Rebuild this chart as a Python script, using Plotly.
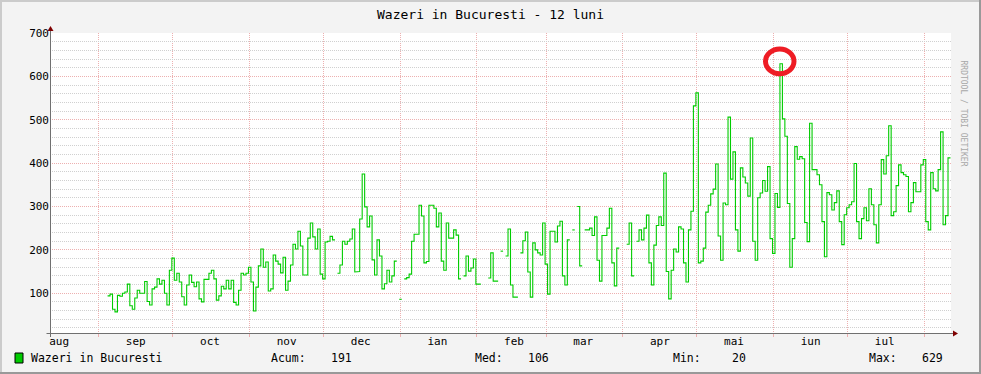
import pandas as pd
import plotly.graph_objects as go

# ---------------- data ----------------
title_text = "Wazeri in Bucuresti - 12 luni"
series_name = "Wazeri in Bucuresti"
month_labels = ["aug", "sep", "oct", "nov", "dec", "ian", "feb", "mar", "apr", "mai", "iun", "iul"]
month_label_dates = ["2012-08-16", "2012-09-16", "2012-10-16", "2012-11-16", "2012-12-16", "2013-01-16",
                     "2013-02-16", "2013-03-16", "2013-04-16", "2013-05-16", "2013-06-16", "2013-07-16"]
month_starts = ["2012-09-01", "2012-10-01", "2012-11-01", "2012-12-01", "2013-01-01", "2013-02-01",
                "2013-03-01", "2013-04-01", "2013-05-01", "2013-06-01", "2013-07-01", "2013-08-01"]
stats_labels = ["Acum:", "Med:", "Min:", "Max:"]
stats_values = ["191", "106", "20", "629"]
y_ticks = [100, 200, 300, 400, 500, 600, 700]

first_day = "2012-09-04 14:00"
x_start, x_end = "2012-08-12 07:00", "2013-08-11 19:00"

sep_vals = [94, 98, 63, 57, 95, 93, 100, 103, 121, 71, 63, 89, 107, 100, 100, 127, 81, 73, 110, 114,
            133, 121, 130, 100, 73, 153]
oct_vals = [181, 130, 146, 126, 92, 73, 119, 142, 125, 115, 126, 87, 80, 132, 132, 146, 153, 133, 84, 94,
            116, 110, 130, 110, 130, 79, 73, 107, 146, 142, 146]
nov_vals = [160, 126, 59, 114, 163, 202, 160, 172, 105, 110, 188, 174, 167, 147, 183, 107, 128, 165, 213, 202,
            243, 209, 142, 142, 227, 262, 230, 202, 248, 144]
dec_vals = [133, 218, 220, 231, 223, None, 146, 165, 220, 213, 220, 225, 248, 149, 150, 271, 375, 299, 253, 278,
            177, 142, 223, 186, 110, 122, 153, 126, 140, 174, None]
ian_vals = [86, None, 133, 136, 144, 220, 236, 236, 303, 278, 170, 173, 303, 303, 296, 253, 285, 174, 153, 262,
            227, 227, 246, 234, 133, None, 140, 186, 151, 158, 179]
feb_vals = [121, 121, None, None, None, 135, 193, 128, 128, None, 197, None, 186, 248, 119, 91, 91, None, 193, 221,
            241, 149, 91, 216, 200, 193, 188, 262]
mar_vals = [167, 98, 243, 243, 218, 255, 266, 140, 119, 223, None, 246, None, 300, 163, None, 246, 246, 250, 233,
            276, 176, 128, 233, 233, 250, 296, 170, 117, 204, None]
apr_vals = [None, None, 213, 262, 140, None, 220, 246, 223, 250, 280, 170, 119, 211, 256, 276, 256, 377, 150, 87,
            153, 202, 195, 253, 248, 170, 126, 246, 289, 532]
mai_vals = [562, 170, 174, 204, 287, 303, 329, 340, 398, 232, 176, 308, 304, 506, 363, 426, 246, 197, 389, 368,
            354, 324, 458, 220, 176, 320, 331, 360, 335, 392, 226]
iun_vals = [192, 330, 298, 629, 502, 462, 307, 160, 226, 438, 409, 415, 410, 263, 219, 492, 385, 385, 373, 350,
            265, 184, 332, 327, 292, 309, 336, 265, 212, 281]
iul_vals = [297, 304, 311, 399, 265, 226, 272, 297, 267, 341, 304, 258, 216, 304, 408, 375, 417, 486, 279, 288,
            348, 396, 378, 373, 369, 288, 309, 355, 334, 334, 396]
aug_vals = [408, 265, 246, 378, 341, 336, 385, 472, 258, 279, 412]

values = (sep_vals + oct_vals + nov_vals + dec_vals + ian_vals + feb_vals + mar_vals +
          apr_vals + mai_vals + iun_vals + iul_vals + aug_vals)
days = pd.date_range(first_day, periods=len(values) + 1, freq="D")

# step path (one flat segment per day, gaps where no data)
xs, ys = [], []
for i, v in enumerate(values):
    if v is None:
        xs.append(None)
        ys.append(None)
        continue
    xs += [days[i].strftime("%Y-%m-%d %H:%M"), days[i + 1].strftime("%Y-%m-%d %H:%M")]
    ys += [v, v]

# ---------------- styling ----------------
W, H = 981, 374
L, R, T, B = 50, 30, 33, 41
FONT = "DejaVu Sans Mono"
GREEN = "#00CC00"
MGRID = "#EDB0B0"
GRID = "#D0D0D0"
AXIS = "#707070"
ARROW = "#7F0000"
BACK = "#F3F3F3"


def px(x):
    return (x - L) / (W - L - R)


def py(y):
    return (H - B - y) / (H - T - B)


fig = go.Figure()
fig.add_trace(go.Scatter(x=xs, y=ys, mode="lines", line=dict(color=GREEN, width=1.1),
                         connectgaps=False, hoverinfo="skip", showlegend=False))

shapes = []
# outer 3D border
shapes.append(dict(type="rect", xref="paper", yref="paper", x0=px(0), x1=px(W), y0=py(0), y1=py(2),
                   fillcolor="#CBCBCB", line=dict(width=0), layer="above"))
shapes.append(dict(type="rect", xref="paper", yref="paper", x0=px(0), x1=px(2), y0=py(0), y1=py(H),
                   fillcolor="#CBCBCB", line=dict(width=0), layer="above"))
shapes.append(dict(type="rect", xref="paper", yref="paper", x0=px(W - 2), x1=px(W), y0=py(0), y1=py(H),
                   fillcolor="#999999", line=dict(width=0), layer="above"))
shapes.append(dict(type="rect", xref="paper", yref="paper", x0=px(0), x1=px(W), y0=py(H - 2), y1=py(H),
                   fillcolor="#999999", line=dict(width=0), layer="above"))
# axes
shapes.append(dict(type="line", xref="paper", yref="paper", x0=px(46.5), x1=px(954), y0=py(333.5), y1=py(333.5),
                   line=dict(color=AXIS, width=1), layer="above"))
shapes.append(dict(type="line", xref="paper", yref="paper", x0=px(50.5), x1=px(50.5), y0=py(337), y1=py(29),
                   line=dict(color=AXIS, width=1), layer="above"))
# arrows
shapes.append(dict(type="path", xref="paper", yref="paper",
                   path=f"M {px(47.5)} {py(31)} L {px(53.5)} {py(31)} L {px(50.5)} {py(26)} Z",
                   fillcolor=ARROW, line=dict(color=ARROW, width=0), layer="above"))
shapes.append(dict(type="path", xref="paper", yref="paper",
                   path=f"M {px(953)} {py(330.5)} L {px(953)} {py(336.5)} L {px(958)} {py(333.5)} Z",
                   fillcolor=ARROW, line=dict(color=ARROW, width=0), layer="above"))
# red circle highlight
shapes.append(dict(type="circle", xref="paper", yref="paper", x0=px(765.5), x1=px(794), y0=py(49), y1=py(73.7),
                   line=dict(color="#EE1C24", width=5), layer="above"))
# legend swatch
shapes.append(dict(type="rect", xref="paper", yref="paper", x0=px(15), x1=px(23), y0=py(353), y1=py(363),
                   fillcolor=GREEN, line=dict(color="black", width=1), layer="above"))

annotations = []
annotations.append(dict(text=series_name, x=px(29), y=py(358), xref="paper", yref="paper", xanchor="left",
                        yanchor="middle", showarrow=False, font=dict(family=FONT, size=11.5, color="black")))
label_x = [269, 473, 670.5, 867]
value_right = [354, 550.5, 748, 945]
for lab, lx, val, vx in zip(stats_labels, label_x, stats_values, value_right):
    annotations.append(dict(text=lab, x=px(lx), y=py(358), xref="paper", yref="paper", xanchor="left",
                            yanchor="middle", showarrow=False, font=dict(family=FONT, size=11.5, color="black")))
    annotations.append(dict(text=val, x=px(vx), y=py(358), xref="paper", yref="paper", xanchor="right",
                            yanchor="middle", showarrow=False, font=dict(family=FONT, size=11.5, color="black")))
annotations.append(dict(text="RRDTOOL / TOBI OETIKER", x=px(970), y=py(58), xref="paper", yref="paper",
                        textangle=90, showarrow=False, font=dict(family=FONT, size=8, color="#A8A8A8")))

fig.update_layout(
    width=W, height=H,
    margin=dict(l=L, r=R, t=T, b=B, pad=0, autoexpand=False),
    paper_bgcolor=BACK, plot_bgcolor="white",
    title=dict(text=title_text, x=0.5, xref="container", xanchor="center", y=1 - 14.5 / H, yref="container",
               yanchor="middle", font=dict(family=FONT, size=13, color="black")),
    shapes=shapes, annotations=annotations,
    xaxis=dict(type="date", range=[x_start, x_end], tickmode="array", tickvals=month_label_dates,
               ticktext=month_labels, ticks="", showgrid=False, zeroline=False, showline=False, automargin=False,
               tickfont=dict(family=FONT, size=11, color="black"),
               minor=dict(tickmode="array", tickvals=month_starts, showgrid=True, gridcolor=MGRID,
                          griddash="1px,1px", gridwidth=1, ticks="outside", ticklen=3, tickcolor=MGRID)),
    yaxis=dict(range=[8.3, 700], tickmode="array", tickvals=y_ticks, ticks="", showgrid=True, gridcolor=MGRID,
               griddash="1px,1px", gridwidth=1, zeroline=False, showline=False, automargin=False,
               tickfont=dict(family=FONT, size=11, color="black"),
               minor=dict(tick0=0, dtick=20, showgrid=True, gridcolor=GRID, griddash="1px,1px", gridwidth=1)),
    showlegend=False,
)

fig.write_html("out.html", config={"displayModeBar": False},
               post_script="document.body.style.margin='0';document.body.style.padding='0';")
